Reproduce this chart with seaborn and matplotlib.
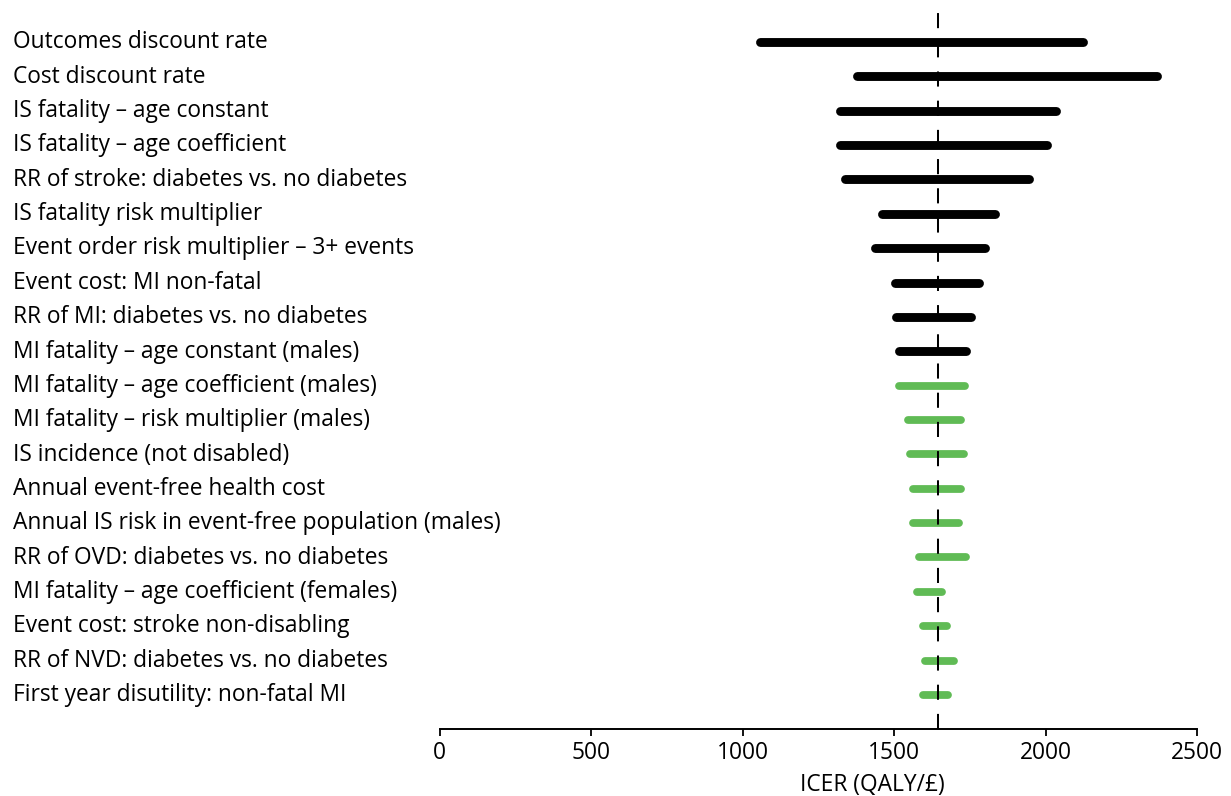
import numpy as np
import pandas as pd
import matplotlib.pyplot as plt
import matplotlib.transforms as mtransforms
import seaborn as sns

# one-way sensitivity analysis, ICER range per parameter
params = [
    "Outcomes discount rate",
    "Cost discount rate",
    "IS fatality \u2013 age constant",
    "IS fatality \u2013 age coefficient",
    "RR of stroke: diabetes vs. no diabetes",
    "IS fatality risk multiplier",
    "Event order risk multiplier \u2013 3+ events",
    "Event cost: MI non-fatal",
    "RR of MI: diabetes vs. no diabetes",
    "MI fatality \u2013 age constant (males)",
    "MI fatality \u2013 age coefficient (males)",
    "MI fatality \u2013 risk multiplier (males)",
    "IS incidence (not disabled)",
    "Annual event-free health cost",
    "Annual IS risk in event-free population (males)",
    "RR of OVD: diabetes vs. no diabetes",
    "MI fatality \u2013 age coefficient (females)",
    "Event cost: stroke non-disabling",
    "RR of NVD: diabetes vs. no diabetes",
    "First year disutility: non-fatal MI",
]
low = [1057, 1379, 1322, 1322, 1339, 1459, 1436, 1503, 1505, 1517,
       1515, 1547, 1553, 1562, 1562, 1583, 1577, 1595, 1603, 1597]
high = [2123, 2367, 2035, 2004, 1945, 1834, 1801, 1779, 1755, 1738,
        1735, 1721, 1730, 1721, 1714, 1738, 1658, 1676, 1697, 1678]
group = ["top"] * 10 + ["rest"] * 10
base_icer = 1644

df = pd.DataFrame({"param": params, "low": low, "high": high, "group": group})
df["pos"] = np.arange(len(df))
long = df.melt(id_vars=["param", "pos", "group"], value_vars=["low", "high"],
               value_name="icer")

sns.set_style("white")
plt.rcParams["font.family"] = ["Open Sans", "DejaVu Sans"]
plt.rcParams["text.color"] = "black"
plt.rcParams["xtick.color"] = "black"
plt.rcParams["ytick.color"] = "black"
plt.rcParams["axes.labelcolor"] = "black"

fig = plt.figure(figsize=(12.31, 7.96), dpi=100)
ax = fig.add_axes([0.3572, 0.0842, 0.6152, 0.9058])

ax.axvline(base_icer, color="black", lw=1.45, dashes=(7.5, 7), zorder=3)

colors = {"top": "black", "rest": "#60bb55"}
widths = {"top": 6.4, "rest": 5.6}
for g in ["top", "rest"]:
    sub = long[long["group"] == g]
    sns.lineplot(data=sub, x="icer", y="pos", units="param", estimator=None,
                 sort=False, orient="y", color=colors[g], lw=widths[g],
                 solid_capstyle="round", ax=ax, zorder=2)

ax.set_xlim(0, 2500)
ax.set_ylim(19.99, -0.99)
ax.set_xticks([0, 500, 1000, 1500, 2000, 2500])
ax.set_yticks(df["pos"])
ax.set_yticklabels(params, ha="left", fontsize=16.4)
ax.tick_params(axis="y", left=False, length=0, pad=307)
ax.tick_params(axis="x", bottom=True, direction="out", length=5, width=1.3,
               pad=4, labelsize=16.4, color="black")
# nudge the parameter names up a little, as in the source figure
shift = mtransforms.ScaledTranslation(0, 2 / 72, fig.dpi_scale_trans)
for lab in ax.get_yticklabels():
    lab.set_transform(lab.get_transform() + shift)
for s in ["top", "right", "left"]:
    ax.spines[s].set_visible(False)
ax.spines["bottom"].set_linewidth(1.4)
ax.spines["bottom"].set_color("black")

ax.set_ylabel("")
ax.set_xlabel("ICER (QALY/\u00a3)", fontsize=16.4, va="center")
ax.xaxis.set_label_coords(0.571, -0.0777)

fig.savefig("out.png", dpi=100)
